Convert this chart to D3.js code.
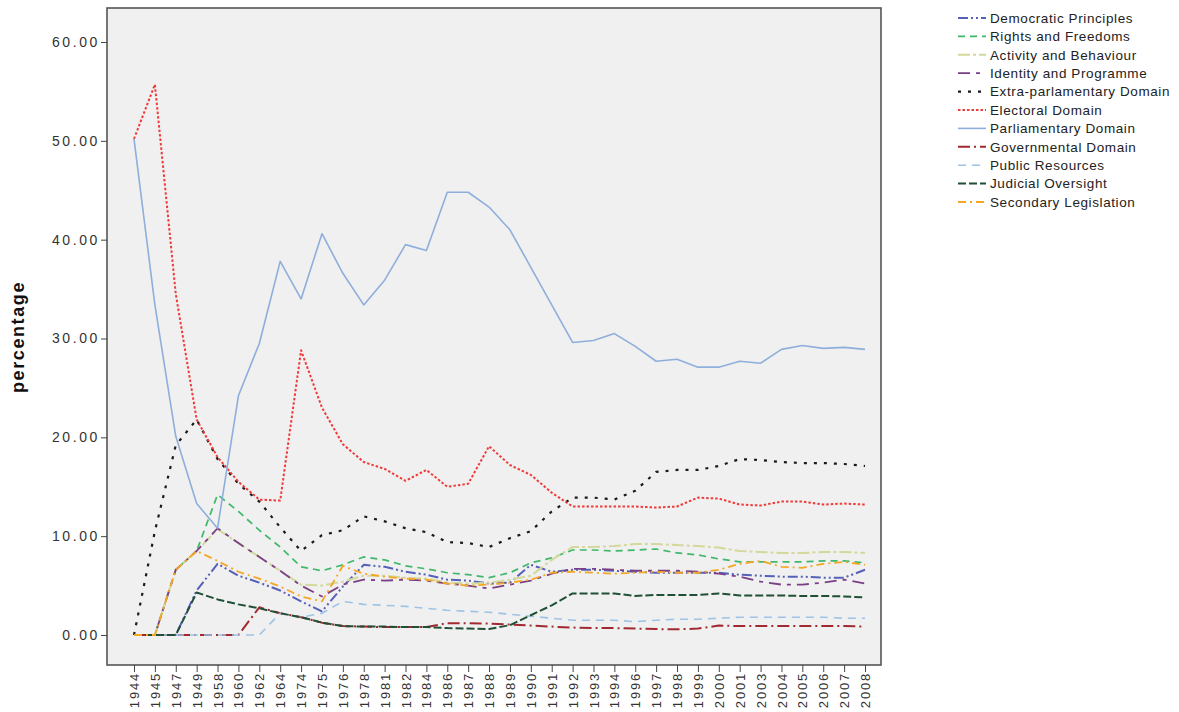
<!DOCTYPE html>
<html>
<head>
<meta charset="utf-8">
<script src="https://cdn.jsdelivr.net/npm/d3@7"></script>
<style>
  html, body { margin: 0; padding: 0; background: #ffffff; }
  svg { display: block; font-family: "Liberation Sans", Arial, sans-serif; }
</style>
</head>
<body>
<svg id="chart" width="1179" height="712"></svg>
<script>
// Election years on the category axis
const years = ["1944","1945","1947","1949","1958","1960","1962","1964","1974","1975","1976","1978",
  "1981","1982","1984","1986","1987","1988","1989","1990","1991","1992","1993","1994","1996",
  "1997","1998","1999","2000","2001","2003","2004","2005","2006","2007","2008"];

// Share (%) of each domain per year
const democraticPrinciples = [0, 0, 0, 4.5, 7.2, 6.0, 5.3, 4.5, 3.4, 2.4, 4.9, 7.1, 6.9, 6.4, 6.1, 5.6, 5.5, 5.2,
  5.3, 7.1, 6.4, 6.6, 6.6, 6.5, 6.4, 6.3, 6.3, 6.3, 6.3, 6.1, 6.0, 5.9, 5.9, 5.8, 5.8, 6.6];
const rightsAndFreedoms = [0, 0, 6.6, 8.5, 14.2, 12.5, 10.6, 8.9, 6.9, 6.5, 7.1, 7.9, 7.6, 7.0, 6.7, 6.3, 6.1, 5.8,
  6.3, 7.3, 7.8, 8.6, 8.6, 8.5, 8.6, 8.7, 8.3, 8.1, 7.7, 7.4, 7.4, 7.4, 7.4, 7.5, 7.5, 7.3];
const activityAndBehaviour = [0, 0, 6.6, 8.5, 10.7, 9.3, 7.9, 6.5, 5.1, 5.0, 5.4, 6.0, 6.0, 5.8, 5.7, 5.3, 5.2, 5.3,
  5.6, 6.0, 7.6, 8.9, 8.9, 9.0, 9.2, 9.2, 9.1, 9.0, 8.85, 8.5, 8.4, 8.3, 8.3, 8.4, 8.4, 8.3];
const identityAndProgramme = [0, 0, 6.6, 8.5, 10.8, 9.3, 7.9, 6.5, 5.0, 3.9, 5.1, 5.6, 5.5, 5.6, 5.5, 5.2, 5.0, 4.7,
  5.1, 5.5, 6.2, 6.7, 6.7, 6.6, 6.5, 6.5, 6.5, 6.4, 6.2, 5.9, 5.4, 5.1, 5.1, 5.3, 5.6, 5.2];
const extraParlamentary = [0, 10.5, 19.2, 21.8, 17.8, 15.3, 13.5, 10.9, 8.5, 10.1, 10.6, 12.0, 11.5, 10.8, 10.4, 9.4,
  9.3, 8.9, 9.8, 10.5, 12.5, 13.9, 13.9, 13.7, 14.6, 16.5, 16.7, 16.7, 17.1, 17.8, 17.7, 17.5, 17.4, 17.4, 17.3, 17.1];
const electoral = [50.2, 55.7, 34.5, 21.8, 18.0, 15.5, 13.7, 13.6, 28.8, 23.0, 19.3, 17.5, 16.8, 15.6, 16.7, 15.0,
  15.3, 19.1, 17.2, 16.2, 14.4, 13.0, 13.0, 13.0, 13.0, 12.9, 13.0, 13.9, 13.8, 13.2, 13.1, 13.5, 13.5, 13.2, 13.3, 13.2];
const parliamentary = [50.2, 33.4, 20.1, 13.3, 10.8, 24.2, 29.5, 37.8, 34.0, 40.6, 36.6, 33.4, 35.9, 39.5, 38.9, 44.8,
  44.8, 43.3, 41.0, 37.2, 33.4, 29.6, 29.8, 30.5, 29.2, 27.7, 27.9, 27.1, 27.1, 27.7, 27.5, 28.9, 29.3, 29.0, 29.1, 28.9];
const governmental = [0, 0, 0, 0, 0, 0, 2.8, 2.2, 1.8, 1.25, 0.9, 0.85, 0.8, 0.8, 0.8, 1.2, 1.2, 1.15, 1.05, 0.95,
  0.85, 0.75, 0.7, 0.7, 0.65, 0.6, 0.57, 0.65, 0.95, 0.9, 0.9, 0.9, 0.9, 0.9, 0.9, 0.85];
const publicResources = [0, 0, 0, 0, 0, 0, 0, 2.2, 1.8, 2.2, 3.4, 3.1, 3.0, 2.9, 2.7, 2.5, 2.4, 2.3, 2.1, 1.9, 1.7,
  1.5, 1.5, 1.5, 1.35, 1.5, 1.6, 1.6, 1.7, 1.8, 1.8, 1.8, 1.8, 1.8, 1.7, 1.7];
const judicialOversight = [0, 0, 0, 4.3, 3.6, 3.1, 2.7, 2.2, 1.8, 1.25, 0.9, 0.85, 0.85, 0.8, 0.8, 0.7, 0.65, 0.6,
  1.0, 2.0, 3.0, 4.2, 4.2, 4.2, 3.95, 4.05, 4.05, 4.05, 4.2, 4.0, 4.0, 4.0, 3.95, 3.95, 3.9, 3.8];
const secondaryLegislation = [0, 0, 6.6, 8.5, 7.5, 6.4, 5.7, 4.9, 3.9, 3.4, 7.0, 6.2, 5.9, 5.7, 5.6, 5.2, 5.0, 5.1,
  5.3, 5.6, 6.3, 6.4, 6.3, 6.2, 6.3, 6.4, 6.3, 6.3, 6.6, 7.2, 7.5, 6.9, 6.8, 7.2, 7.4, 7.1];

const yTicks = [0, 10, 20, 30, 40, 50, 60];

// Series definitions: label, values, stroke styling
const series = [
  { name: "Democratic Principles",       values: democraticPrinciples,  color: "#5560b8", dash: "10,3,2,3,2,3", width: 2 },
  { name: "Rights and Freedoms",         values: rightsAndFreedoms,     color: "#3fb86a", dash: "7,5",          width: 1.7 },
  { name: "Activity and Behaviour",      values: activityAndBehaviour,  color: "#d4d89a", dash: "12,3,3,3",     width: 2 },
  { name: "Identity and Programme",      values: identityAndProgramme,  color: "#7a3f86", dash: "12,6,4,6",     width: 1.8 },
  { name: "Extra-parlamentary Domain",   values: extraParlamentary,     color: "#1a1a1a", dash: "3,7",          width: 2.2 },
  { name: "Electoral Domain",            values: electoral,             color: "#ee3b3b", dash: "2.5,2",        width: 2 },
  { name: "Parliamentary Domain",        values: parliamentary,         color: "#8eaedb", dash: null,           width: 1.6 },
  { name: "Governmental Domain",         values: governmental,          color: "#a02a30", dash: "12,4,2,4",     width: 2 },
  { name: "Public Resources",            values: publicResources,       color: "#9dc3e6", dash: "8,6",          width: 1.6 },
  { name: "Judicial Oversight",          values: judicialOversight,     color: "#1f4f36", dash: "8,3",          width: 2 },
  { name: "Secondary Legislation",       values: secondaryLegislation,  color: "#f5a623", dash: "8,4,2,4",      width: 1.8 }
];

const svg = d3.select("#chart");

// Plot frame
const frame = { left: 107, right: 881, top: 8, bottom: 665 };

const x = d3.scalePoint().domain(years).range([134, 865]);
const y = d3.scaleLinear().domain([0, 60]).range([635, 42]);

svg.append("rect")
  .attr("x", frame.left).attr("y", frame.top)
  .attr("width", frame.right - frame.left).attr("height", frame.bottom - frame.top)
  .attr("fill", "#f0f0f0");

// Lines
const line = d3.line()
  .x((d, i) => x(years[i]))
  .y(d => y(d));

const lines = svg.append("g");
series.forEach(s => {
  lines.append("path")
    .datum(s.values)
    .attr("d", line)
    .attr("fill", "none")
    .attr("stroke", s.color)
    .attr("stroke-width", s.width)
    .attr("stroke-dasharray", s.dash)
    .attr("stroke-linejoin", "round");
});

// Frame border
svg.append("rect")
  .attr("x", frame.left).attr("y", frame.top)
  .attr("width", frame.right - frame.left).attr("height", frame.bottom - frame.top)
  .attr("fill", "none")
  .attr("stroke", "#555")
  .attr("stroke-width", 1.6);

// Y axis
const yAxis = svg.append("g")
  .attr("transform", `translate(${frame.left},0)`)
  .call(d3.axisLeft(y).tickValues(yTicks).tickFormat(d3.format(".2f")).tickSize(6).tickPadding(1));
yAxis.select(".domain").remove();
yAxis.selectAll("line").attr("stroke", "#444");
yAxis.selectAll("text").attr("font-size", 14).attr("fill", "#333")
  .attr("letter-spacing", "2.6px")
  .attr("font-family", "\"Liberation Sans\", Arial, sans-serif");

// X axis
const xAxis = svg.append("g")
  .attr("transform", `translate(0,${frame.bottom})`)
  .call(d3.axisBottom(x).tickSize(7));
xAxis.select(".domain").remove();
xAxis.selectAll("line").attr("stroke", "#444");
xAxis.selectAll("text")
  .attr("transform", "rotate(-90)")
  .attr("x", -7).attr("y", 0).attr("dy", "0.35em")
  .style("text-anchor", "end")
  .attr("font-size", 13).attr("fill", "#333")
  .attr("letter-spacing", "1.8px")
  .attr("font-family", "\"Liberation Sans\", Arial, sans-serif");

// Y axis title
svg.append("text")
  .attr("transform", "translate(24,337) rotate(-90)")
  .attr("text-anchor", "middle")
  .attr("font-size", 18)
  .attr("font-weight", "bold")
  .attr("letter-spacing", "1.6px")
  .attr("fill", "#111")
  .text("percentage");

// Legend
const legend = svg.append("g").attr("transform", "translate(958,18)");
series.forEach((s, i) => {
  const row = legend.append("g").attr("transform", `translate(0,${i * 18.4})`);
  row.append("line")
    .attr("x1", 0).attr("x2", 28).attr("y1", 0).attr("y2", 0)
    .attr("stroke", s.color)
    .attr("stroke-width", s.width)
    .attr("stroke-dasharray", s.dash);
  row.append("text")
    .attr("x", 32).attr("y", 0).attr("dy", "0.35em")
    .attr("font-size", 13.5)
    .attr("letter-spacing", "0.6px")
    .attr("fill", "#222")
    .text(s.name);
});
</script>
</body>
</html>
